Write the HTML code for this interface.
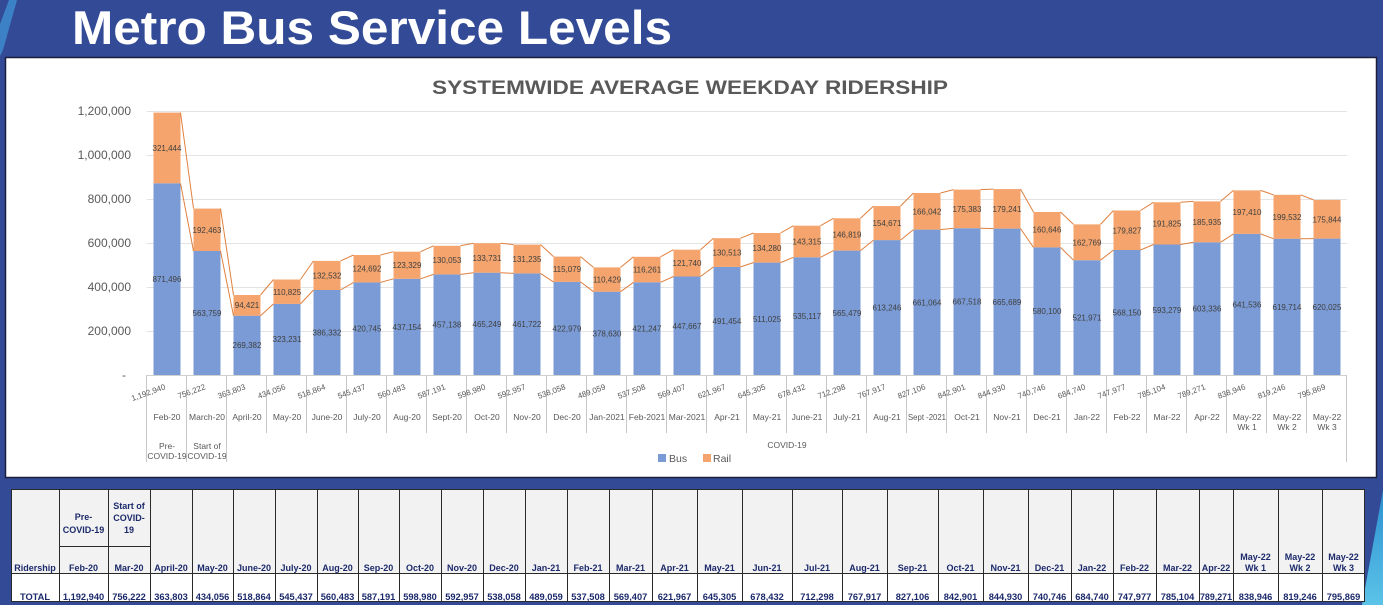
<!DOCTYPE html>
<html><head><meta charset="utf-8">
<style>
html,body{margin:0;padding:0;background:#334b96;}
body{width:1383px;height:605px;overflow:hidden;}
svg{display:block;}
text{font-family:"Liberation Sans",Arial,sans-serif;}
</style></head>
<body>
<svg width="1383" height="605" viewBox="0 0 1383 605" xmlns="http://www.w3.org/2000/svg">
<defs>
<linearGradient id="tg" x1="0" y1="0" x2="0" y2="1">
<stop offset="0" stop-color="#2b8fd0"/><stop offset="1" stop-color="#5cc3e8"/>
</linearGradient>
</defs>
<rect x="0" y="0" width="1383" height="605" fill="#334b96"/>
<polygon points="9,0 17,0 3,50 0,56 0,24" fill="#3f8fd2" opacity="0.8"/>
<polygon points="1383,490 1383,605 1362,605" fill="url(#tg)"/>

<text x="72" y="44" font-size="47" font-weight="bold" fill="#ffffff" textLength="600" lengthAdjust="spacingAndGlyphs">Metro Bus Service Levels</text>

<!-- chart panel -->
<rect x="5.5" y="57.5" width="1371" height="420" fill="#ffffff" stroke="#1b1f3c" stroke-width="1.5"/>
<text x="432" y="94" font-size="19" font-weight="bold" fill="#595959" textLength="516" lengthAdjust="spacingAndGlyphs">SYSTEMWIDE AVERAGE WEEKDAY RIDERSHIP</text>

<!-- gridlines -->
<g stroke="#e3e3e3" stroke-width="1">
<line x1="147" y1="111.5" x2="1347" y2="111.5"/>
<line x1="147" y1="155.5" x2="1347" y2="155.5"/>
<line x1="147" y1="199.5" x2="1347" y2="199.5"/>
<line x1="147" y1="243.5" x2="1347" y2="243.5"/>
<line x1="147" y1="287.5" x2="1347" y2="287.5"/>
<line x1="147" y1="331.5" x2="1347" y2="331.5"/>
</g>
<g font-size="12" fill="#595959" text-anchor="end">
<text x="131" y="115">1,200,000</text>
<text x="131" y="159">1,000,000</text>
<text x="131" y="203">800,000</text>
<text x="131" y="247">600,000</text>
<text x="131" y="291">400,000</text>
<text x="131" y="335">200,000</text>
<text x="126" y="379">-</text>
</g>

<!-- bars -->
<g fill="#7a9bd6">
<rect x="153.5" y="183.3" width="27" height="191.7"/>
<rect x="193.5" y="251.0" width="27" height="124.0"/>
<rect x="233.5" y="315.7" width="27" height="59.3"/>
<rect x="273.5" y="303.9" width="27" height="71.1"/>
<rect x="313.5" y="290.0" width="27" height="85.0"/>
<rect x="353.5" y="282.4" width="27" height="92.6"/>
<rect x="393.5" y="278.8" width="27" height="96.2"/>
<rect x="433.5" y="274.4" width="27" height="100.6"/>
<rect x="473.5" y="272.7" width="27" height="102.3"/>
<rect x="513.5" y="273.4" width="27" height="101.6"/>
<rect x="553.5" y="281.9" width="27" height="93.1"/>
<rect x="593.5" y="291.7" width="27" height="83.3"/>
<rect x="633.5" y="282.3" width="27" height="92.7"/>
<rect x="673.5" y="276.5" width="27" height="98.5"/>
<rect x="713.5" y="266.9" width="27" height="108.1"/>
<rect x="753.5" y="262.6" width="27" height="112.4"/>
<rect x="793.5" y="257.3" width="27" height="117.7"/>
<rect x="833.5" y="250.6" width="27" height="124.4"/>
<rect x="873.5" y="240.1" width="27" height="134.9"/>
<rect x="913.5" y="229.6" width="27" height="145.4"/>
<rect x="953.5" y="228.2" width="27" height="146.8"/>
<rect x="993.5" y="228.6" width="27" height="146.4"/>
<rect x="1033.5" y="247.4" width="27" height="127.6"/>
<rect x="1073.5" y="260.2" width="27" height="114.8"/>
<rect x="1113.5" y="250.0" width="27" height="125.0"/>
<rect x="1153.5" y="244.5" width="27" height="130.5"/>
<rect x="1193.5" y="242.3" width="27" height="132.7"/>
<rect x="1233.5" y="233.9" width="27" height="141.1"/>
<rect x="1273.5" y="238.7" width="27" height="136.3"/>
<rect x="1313.5" y="238.6" width="27" height="136.4"/>
</g>
<g fill="#f4a46c">
<rect x="153.5" y="112.6" width="27" height="70.7"/>
<rect x="193.5" y="208.6" width="27" height="42.4"/>
<rect x="233.5" y="295.0" width="27" height="20.7"/>
<rect x="273.5" y="279.5" width="27" height="24.4"/>
<rect x="313.5" y="260.9" width="27" height="29.1"/>
<rect x="353.5" y="255.0" width="27" height="27.4"/>
<rect x="393.5" y="251.7" width="27" height="27.1"/>
<rect x="433.5" y="245.8" width="27" height="28.6"/>
<rect x="473.5" y="243.2" width="27" height="29.5"/>
<rect x="513.5" y="244.6" width="27" height="28.8"/>
<rect x="553.5" y="256.6" width="27" height="25.3"/>
<rect x="593.5" y="267.4" width="27" height="24.3"/>
<rect x="633.5" y="256.8" width="27" height="25.5"/>
<rect x="673.5" y="249.7" width="27" height="26.8"/>
<rect x="713.5" y="238.2" width="27" height="28.7"/>
<rect x="753.5" y="233.0" width="27" height="29.6"/>
<rect x="793.5" y="225.7" width="27" height="31.6"/>
<rect x="833.5" y="218.3" width="27" height="32.3"/>
<rect x="873.5" y="206.1" width="27" height="34.0"/>
<rect x="913.5" y="193.0" width="27" height="36.6"/>
<rect x="953.5" y="189.6" width="27" height="38.6"/>
<rect x="993.5" y="189.1" width="27" height="39.5"/>
<rect x="1033.5" y="212.0" width="27" height="35.4"/>
<rect x="1073.5" y="224.4" width="27" height="35.8"/>
<rect x="1113.5" y="210.5" width="27" height="39.5"/>
<rect x="1153.5" y="202.3" width="27" height="42.2"/>
<rect x="1193.5" y="201.4" width="27" height="40.9"/>
<rect x="1233.5" y="190.4" width="27" height="43.5"/>
<rect x="1273.5" y="194.8" width="27" height="43.9"/>
<rect x="1313.5" y="199.9" width="27" height="38.7"/>
</g>

<!-- series lines -->
<path fill="none" stroke="#e0803f" stroke-width="1" d="M180.5 183.3L193.5 251.0M220.5 251.0L233.5 315.7M260.5 315.7L273.5 303.9M300.5 303.9L313.5 290.0M340.5 290.0L353.5 282.4M380.5 282.4L393.5 278.8M420.5 278.8L433.5 274.4M460.5 274.4L473.5 272.7M500.5 272.7L513.5 273.4M540.5 273.4L553.5 281.9M580.5 281.9L593.5 291.7M620.5 291.7L633.5 282.3M660.5 282.3L673.5 276.5M700.5 276.5L713.5 266.9M740.5 266.9L753.5 262.6M780.5 262.6L793.5 257.3M820.5 257.3L833.5 250.6M860.5 250.6L873.5 240.1M900.5 240.1L913.5 229.6M940.5 229.6L953.5 228.2M980.5 228.2L993.5 228.6M1020.5 228.6L1033.5 247.4M1060.5 247.4L1073.5 260.2M1100.5 260.2L1113.5 250.0M1140.5 250.0L1153.5 244.5M1180.5 244.5L1193.5 242.3M1220.5 242.3L1233.5 233.9M1260.5 233.9L1273.5 238.7M1300.5 238.7L1313.5 238.6"/>
<path fill="none" stroke="#e0803f" stroke-width="1" d="M180.5 112.6L193.5 208.6M220.5 208.6L233.5 295.0M260.5 295.0L273.5 279.5M300.5 279.5L313.5 260.9M340.5 260.9L353.5 255.0M380.5 255.0L393.5 251.7M420.5 251.7L433.5 245.8M460.5 245.8L473.5 243.2M500.5 243.2L513.5 244.6M540.5 244.6L553.5 256.6M580.5 256.6L593.5 267.4M620.5 267.4L633.5 256.8M660.5 256.8L673.5 249.7M700.5 249.7L713.5 238.2M740.5 238.2L753.5 233.0M780.5 233.0L793.5 225.7M820.5 225.7L833.5 218.3M860.5 218.3L873.5 206.1M900.5 206.1L913.5 193.0M940.5 193.0L953.5 189.6M980.5 189.6L993.5 189.1M1020.5 189.1L1033.5 212.0M1060.5 212.0L1073.5 224.4M1100.5 224.4L1113.5 210.5M1140.5 210.5L1153.5 202.3M1180.5 202.3L1193.5 201.4M1220.5 201.4L1233.5 190.4M1260.5 190.4L1273.5 194.8M1300.5 194.8L1313.5 199.9"/>

<!-- bus labels -->
<g font-size="8" fill="#404040" text-anchor="middle">
<text x="167" y="282">871,496</text>
<text x="207" y="316">563,759</text>
<text x="247" y="348">269,382</text>
<text x="287" y="342">323,231</text>
<text x="327" y="335.5">386,332</text>
<text x="367" y="331.7">420,745</text>
<text x="407" y="330">437,154</text>
<text x="447" y="327.7">457,138</text>
<text x="487" y="327">465,249</text>
<text x="527" y="327">461,722</text>
<text x="567" y="331.5">422,979</text>
<text x="607" y="336.4">378,630</text>
<text x="647" y="331.7">421,247</text>
<text x="687" y="328.8">447,667</text>
<text x="727" y="324">491,454</text>
<text x="767" y="321.8">511,025</text>
<text x="807" y="319">535,117</text>
<text x="847" y="315.8">565,479</text>
<text x="887" y="310.6">613,246</text>
<text x="927" y="305.3">661,064</text>
<text x="967" y="304.6">667,518</text>
<text x="1007" y="304.8">665,689</text>
<text x="1047" y="314.2">580,100</text>
<text x="1087" y="320.6">521,971</text>
<text x="1127" y="315.5">568,150</text>
<text x="1167" y="312.8">593,279</text>
<text x="1207" y="311.7">603,336</text>
<text x="1247" y="307.5">641,536</text>
<text x="1287" y="309.9">619,714</text>
<text x="1327" y="309.8">620,025</text>
</g>
<!-- rail labels -->
<g font-size="8" fill="#404040" text-anchor="middle">
<text x="167" y="151">321,444</text>
<text x="207" y="233">192,463</text>
<text x="247" y="308">94,421</text>
<text x="287" y="295">110,825</text>
<text x="327" y="278.5">132,532</text>
<text x="367" y="271.7">124,692</text>
<text x="407" y="268">123,329</text>
<text x="447" y="263">130,053</text>
<text x="487" y="261">133,731</text>
<text x="527" y="262">131,235</text>
<text x="567" y="272">115,079</text>
<text x="607" y="282.6">110,429</text>
<text x="647" y="272.6">116,261</text>
<text x="687" y="266">121,740</text>
<text x="727" y="255.6">130,513</text>
<text x="767" y="250.8">134,280</text>
<text x="807" y="244.5">143,315</text>
<text x="847" y="237.5">146,819</text>
<text x="887" y="226">154,671</text>
<text x="927" y="214.3">166,042</text>
<text x="967" y="212">175,383</text>
<text x="1007" y="212">179,241</text>
<text x="1047" y="232.7">160,646</text>
<text x="1087" y="245.3">162,769</text>
<text x="1127" y="233.3">179,827</text>
<text x="1167" y="226.4">191,825</text>
<text x="1207" y="224.9">185,935</text>
<text x="1247" y="215.2">197,410</text>
<text x="1287" y="219.8">199,532</text>
<text x="1327" y="222.3">175,844</text>
</g>

<!-- axis + ticks -->
<line x1="147" y1="375.5" x2="1347" y2="375.5" stroke="#d0d0d0" stroke-width="1"/>
<g stroke="#c8c8c8" stroke-width="1">
<line x1="146.5" y1="375" x2="146.5" y2="462"/>
<line x1="186.5" y1="375" x2="186.5" y2="462"/>
<line x1="226.5" y1="375" x2="226.5" y2="462"/>
<line x1="266.5" y1="375" x2="266.5" y2="433"/>
<line x1="306.5" y1="375" x2="306.5" y2="433"/>
<line x1="346.5" y1="375" x2="346.5" y2="433"/>
<line x1="386.5" y1="375" x2="386.5" y2="433"/>
<line x1="426.5" y1="375" x2="426.5" y2="433"/>
<line x1="466.5" y1="375" x2="466.5" y2="433"/>
<line x1="506.5" y1="375" x2="506.5" y2="433"/>
<line x1="546.5" y1="375" x2="546.5" y2="433"/>
<line x1="586.5" y1="375" x2="586.5" y2="433"/>
<line x1="626.5" y1="375" x2="626.5" y2="433"/>
<line x1="666.5" y1="375" x2="666.5" y2="433"/>
<line x1="706.5" y1="375" x2="706.5" y2="433"/>
<line x1="746.5" y1="375" x2="746.5" y2="433"/>
<line x1="786.5" y1="375" x2="786.5" y2="433"/>
<line x1="826.5" y1="375" x2="826.5" y2="433"/>
<line x1="866.5" y1="375" x2="866.5" y2="433"/>
<line x1="906.5" y1="375" x2="906.5" y2="433"/>
<line x1="946.5" y1="375" x2="946.5" y2="433"/>
<line x1="986.5" y1="375" x2="986.5" y2="433"/>
<line x1="1026.5" y1="375" x2="1026.5" y2="433"/>
<line x1="1066.5" y1="375" x2="1066.5" y2="433"/>
<line x1="1106.5" y1="375" x2="1106.5" y2="433"/>
<line x1="1146.5" y1="375" x2="1146.5" y2="433"/>
<line x1="1186.5" y1="375" x2="1186.5" y2="433"/>
<line x1="1226.5" y1="375" x2="1226.5" y2="433"/>
<line x1="1266.5" y1="375" x2="1266.5" y2="433"/>
<line x1="1306.5" y1="375" x2="1306.5" y2="433"/>
<line x1="1346.5" y1="375" x2="1346.5" y2="462"/>
</g>

<!-- rotated totals -->
<g font-size="8" fill="#595959" text-anchor="end">
<text x="166" y="389" transform="rotate(-20 166 389)">1,192,940</text>
<text x="206" y="389" transform="rotate(-20 206 389)">756,222</text>
<text x="246" y="389" transform="rotate(-20 246 389)">363,803</text>
<text x="286" y="389" transform="rotate(-20 286 389)">434,056</text>
<text x="326" y="389" transform="rotate(-20 326 389)">518,864</text>
<text x="366" y="389" transform="rotate(-20 366 389)">545,437</text>
<text x="406" y="389" transform="rotate(-20 406 389)">560,483</text>
<text x="446" y="389" transform="rotate(-20 446 389)">587,191</text>
<text x="486" y="389" transform="rotate(-20 486 389)">598,980</text>
<text x="526" y="389" transform="rotate(-20 526 389)">592,957</text>
<text x="566" y="389" transform="rotate(-20 566 389)">538,058</text>
<text x="606" y="389" transform="rotate(-20 606 389)">489,059</text>
<text x="646" y="389" transform="rotate(-20 646 389)">537,508</text>
<text x="686" y="389" transform="rotate(-20 686 389)">569,407</text>
<text x="726" y="389" transform="rotate(-20 726 389)">621,967</text>
<text x="766" y="389" transform="rotate(-20 766 389)">645,305</text>
<text x="806" y="389" transform="rotate(-20 806 389)">678,432</text>
<text x="846" y="389" transform="rotate(-20 846 389)">712,298</text>
<text x="886" y="389" transform="rotate(-20 886 389)">767,917</text>
<text x="926" y="389" transform="rotate(-20 926 389)">827,106</text>
<text x="966" y="389" transform="rotate(-20 966 389)">842,901</text>
<text x="1006" y="389" transform="rotate(-20 1006 389)">844,930</text>
<text x="1046" y="389" transform="rotate(-20 1046 389)">740,746</text>
<text x="1086" y="389" transform="rotate(-20 1086 389)">684,740</text>
<text x="1126" y="389" transform="rotate(-20 1126 389)">747,977</text>
<text x="1166" y="389" transform="rotate(-20 1166 389)">785,104</text>
<text x="1206" y="389" transform="rotate(-20 1206 389)">789,271</text>
<text x="1246" y="389" transform="rotate(-20 1246 389)">838,946</text>
<text x="1286" y="389" transform="rotate(-20 1286 389)">819,246</text>
<text x="1326" y="389" transform="rotate(-20 1326 389)">795,869</text>
</g>

<!-- category labels -->
<g font-size="8.5" fill="#595959" text-anchor="middle">
<text x="167" y="420">Feb-20</text>
<text x="207" y="420">March-20</text>
<text x="247" y="420">April-20</text>
<text x="287" y="420">May-20</text>
<text x="327" y="420">June-20</text>
<text x="367" y="420">July-20</text>
<text x="407" y="420">Aug-20</text>
<text x="447" y="420">Sept-20</text>
<text x="487" y="420">Oct-20</text>
<text x="527" y="420">Nov-20</text>
<text x="567" y="420">Dec-20</text>
<text x="607" y="420">Jan-2021</text>
<text x="647" y="420">Feb-2021</text>
<text x="687" y="420">Mar-2021</text>
<text x="727" y="420">Apr-21</text>
<text x="767" y="420">May-21</text>
<text x="807" y="420">June-21</text>
<text x="847" y="420">July-21</text>
<text x="887" y="420">Aug-21</text>
<text x="927" y="420" textLength="38" lengthAdjust="spacingAndGlyphs">Sept -2021</text>
<text x="967" y="420">Oct-21</text>
<text x="1007" y="420">Nov-21</text>
<text x="1047" y="420">Dec-21</text>
<text x="1087" y="420">Jan-22</text>
<text x="1127" y="420">Feb-22</text>
<text x="1167" y="420">Mar-22</text>
<text x="1207" y="420">Apr-22</text>
<text x="1247" y="420">May-22</text>
<text x="1247" y="430">Wk 1</text>
<text x="1287" y="420">May-22</text>
<text x="1287" y="430">Wk 2</text>
<text x="1327" y="420">May-22</text>
<text x="1327" y="430">Wk 3</text>
<text x="167" y="449">Pre-</text>
<text x="167" y="459">COVID-19</text>
<text x="207" y="449">Start of</text>
<text x="207" y="459">COVID-19</text>
<text x="787" y="448">COVID-19</text>
</g>

<!-- legend -->
<rect x="658" y="454" width="8" height="8" fill="#7a9bd6"/>
<text x="669" y="462" font-size="10.5" fill="#595959">Bus</text>
<rect x="703" y="454" width="8" height="8" fill="#f4a46c"/>
<text x="713" y="462" font-size="10.5" fill="#595959">Rail</text>

<!-- table -->
<rect x="11" y="489" width="1354" height="84" fill="#f2f2f2"/>
<rect x="11" y="573" width="1354" height="29" fill="#ffffff"/>
<g stroke="#2a2a2a" stroke-width="1" fill="none">
<rect x="11.5" y="489.5" width="1353" height="112"/>
<line x1="11" y1="573.5" x2="1365" y2="573.5"/>
<line x1="59" y1="546.5" x2="150" y2="546.5"/>
<line x1="59.5" y1="489" x2="59.5" y2="602"/>
<line x1="108.5" y1="489" x2="108.5" y2="602"/>
<line x1="150.5" y1="489" x2="150.5" y2="602"/>
<line x1="192.5" y1="489" x2="192.5" y2="602"/>
<line x1="233.5" y1="489" x2="233.5" y2="602"/>
<line x1="275.5" y1="489" x2="275.5" y2="602"/>
<line x1="317.5" y1="489" x2="317.5" y2="602"/>
<line x1="358.5" y1="489" x2="358.5" y2="602"/>
<line x1="399.5" y1="489" x2="399.5" y2="602"/>
<line x1="441.5" y1="489" x2="441.5" y2="602"/>
<line x1="483.5" y1="489" x2="483.5" y2="602"/>
<line x1="525.5" y1="489" x2="525.5" y2="602"/>
<line x1="567.5" y1="489" x2="567.5" y2="602"/>
<line x1="609.5" y1="489" x2="609.5" y2="602"/>
<line x1="652.5" y1="489" x2="652.5" y2="602"/>
<line x1="697.5" y1="489" x2="697.5" y2="602"/>
<line x1="742.5" y1="489" x2="742.5" y2="602"/>
<line x1="792.5" y1="489" x2="792.5" y2="602"/>
<line x1="842.5" y1="489" x2="842.5" y2="602"/>
<line x1="887.5" y1="489" x2="887.5" y2="602"/>
<line x1="938.5" y1="489" x2="938.5" y2="602"/>
<line x1="983.5" y1="489" x2="983.5" y2="602"/>
<line x1="1028.5" y1="489" x2="1028.5" y2="602"/>
<line x1="1071.5" y1="489" x2="1071.5" y2="602"/>
<line x1="1113.5" y1="489" x2="1113.5" y2="602"/>
<line x1="1156.5" y1="489" x2="1156.5" y2="602"/>
<line x1="1199.5" y1="489" x2="1199.5" y2="602"/>
<line x1="1233.5" y1="489" x2="1233.5" y2="602"/>
<line x1="1278.5" y1="489" x2="1278.5" y2="602"/>
<line x1="1322.5" y1="489" x2="1322.5" y2="602"/>
</g>
<g font-size="9" font-weight="bold" fill="#1c2a6b" text-anchor="middle">
<text x="35" y="571">Ridership</text>
<text x="83.5" y="520">Pre-</text>
<text x="83.5" y="533">COVID-19</text>
<text x="129" y="509">Start of</text>
<text x="129" y="521">COVID-</text>
<text x="129" y="533">19</text>
<text x="83.5" y="571">Feb-20</text>
<text x="129" y="571">Mar-20</text>
<text x="171" y="571">April-20</text>
<text x="212.5" y="571">May-20</text>
<text x="254" y="571">June-20</text>
<text x="296" y="571">July-20</text>
<text x="337.5" y="571">Aug-20</text>
<text x="378.5" y="571">Sep-20</text>
<text x="420" y="571">Oct-20</text>
<text x="462" y="571">Nov-20</text>
<text x="504" y="571">Dec-20</text>
<text x="546" y="571">Jan-21</text>
<text x="588" y="571">Feb-21</text>
<text x="630.5" y="571">Mar-21</text>
<text x="674.5" y="571">Apr-21</text>
<text x="719.5" y="571">May-21</text>
<text x="767" y="571">Jun-21</text>
<text x="817" y="571">Jul-21</text>
<text x="864.5" y="571">Aug-21</text>
<text x="912.5" y="571">Sep-21</text>
<text x="960.5" y="571">Oct-21</text>
<text x="1005.5" y="571">Nov-21</text>
<text x="1049.5" y="571">Dec-21</text>
<text x="1092" y="571">Jan-22</text>
<text x="1134.5" y="571">Feb-22</text>
<text x="1177.5" y="571">Mar-22</text>
<text x="1216" y="571">Apr-22</text>
<text x="1255.5" y="560">May-22</text>
<text x="1255.5" y="571">Wk 1</text>
<text x="1300" y="560">May-22</text>
<text x="1300" y="571">Wk 2</text>
<text x="1343.5" y="560">May-22</text>
<text x="1343.5" y="571">Wk 3</text>
</g>
<g font-size="9.3" font-weight="bold" fill="#1c2a6b" text-anchor="middle">
<text x="35" y="600">TOTAL</text>
<text x="83.5" y="600">1,192,940</text>
<text x="129" y="600">756,222</text>
<text x="171" y="600">363,803</text>
<text x="212.5" y="600">434,056</text>
<text x="254" y="600">518,864</text>
<text x="296" y="600">545,437</text>
<text x="337.5" y="600">560,483</text>
<text x="378.5" y="600">587,191</text>
<text x="420" y="600">598,980</text>
<text x="462" y="600">592,957</text>
<text x="504" y="600">538,058</text>
<text x="546" y="600">489,059</text>
<text x="588" y="600">537,508</text>
<text x="630.5" y="600">569,407</text>
<text x="674.5" y="600">621,967</text>
<text x="719.5" y="600">645,305</text>
<text x="767" y="600">678,432</text>
<text x="817" y="600">712,298</text>
<text x="864.5" y="600">767,917</text>
<text x="912.5" y="600">827,106</text>
<text x="960.5" y="600">842,901</text>
<text x="1005.5" y="600">844,930</text>
<text x="1049.5" y="600">740,746</text>
<text x="1092" y="600">684,740</text>
<text x="1134.5" y="600">747,977</text>
<text x="1177.5" y="600">785,104</text>
<text x="1216" y="600" textLength="32" lengthAdjust="spacingAndGlyphs">789,271</text>
<text x="1255.5" y="600">838,946</text>
<text x="1300" y="600">819,246</text>
<text x="1343.5" y="600">795,869</text>
</g>
</svg>
</body></html>
